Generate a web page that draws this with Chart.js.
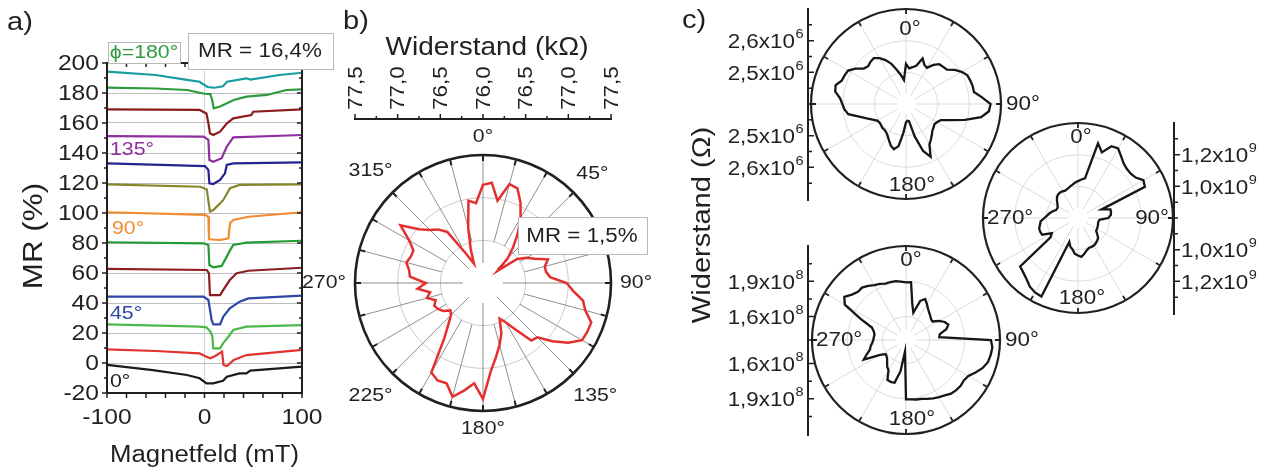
<!DOCTYPE html>
<html>
<head>
<meta charset="utf-8">
<script src="https://cdn.jsdelivr.net/npm/chart.js@4.4.1/dist/chart.umd.min.js"></script>
<style>
  html, body { margin: 0; padding: 0; background: #fff; }
  #wrap { position: relative; width: 1266px; height: 472px; overflow: hidden; background: #fff; }
  #wrap canvas { position: absolute; left: 0; top: 0; }
</style>
</head>
<body>
<div id="wrap">
  <canvas id="cA" width="1266" height="472"></canvas>
  <canvas id="cB" width="1266" height="472"></canvas>
  <canvas id="cC1" width="1266" height="472"></canvas>
  <canvas id="cC2" width="1266" height="472"></canvas>
  <canvas id="cC3" width="1266" height="472"></canvas>
</div>
<script>
// ---------- panel a: MR (%) vs. Magnetfeld (mT), one offset curve per angle ----------
const mr0   = [[-100,-1.3],[-53,-4.7],[-18,-8],[-5,-10.2],[2,-13.6],[9,-13.6],[19,-11.8],[23,-9.1],[36,-6.9],[43,-6.9],[47,-5.1],[100,-2.4]];
const mr15  = [[-100,9.1],[-50,8],[-5,6.4],[2,4.2],[6,3.1],[11,4.7],[18,7.6],[19.5,-1.3],[23,-2],[30,2],[43,5.3],[100,8.7]];
const mr30  = [[-100,25.8],[-5,24.2],[2,23.8],[6,20.9],[8,18],[9,9.8],[16,9.8],[19,13.1],[24.5,17.5],[29.5,22],[43,24.2],[100,25.3]];
const mr45  = [[-100,44.2],[-1,44.2],[4,42],[7.3,28.7],[9,25.8],[16,25.8],[19.3,30.9],[26,36.4],[36,40.9],[45,43.1],[100,44.9]];
const mr60  = [[-100,62.7],[2.3,62],[4.6,59.8],[5.6,45.3],[16,45.3],[19.3,48.7],[26,55.3],[33,59.8],[45,61.5],[100,63.5]];
const mr75  = [[-100,80.5],[-1,79.8],[4,78.7],[5,65.3],[9,63.8],[17.6,64.7],[22.8,70.9],[26,74.9],[29.5,78.7],[43,80.2],[100,81.5]];
const mr90  = [[-100,100.5],[0.5,98.7],[4,97.5],[4.6,82.5],[16,82],[24.5,83.1],[26.2,93.1],[29.5,95.3],[45,97.5],[100,100.5]];
const mr105 = [[-100,119.1],[-4.6,117.5],[2.3,115.8],[5.6,100.9],[9,102],[16,106.4],[19.3,108.7],[26.2,116.5],[36,118.7],[100,119.1]];
const mr120 = [[-100,133.1],[0.5,131.3],[4,128.7],[5,119.8],[9,119.3],[16,122],[21,126.4],[22.8,132],[29.5,133.1],[100,133.8]];
const mr135 = [[-100,151.3],[-1,150.9],[4,148.7],[5,135.3],[9,134.2],[17.6,136.5],[22.8,144.2],[29.5,150.4],[100,152]];
const mr150 = [[-100,169.1],[-5,168.7],[2,166.4],[4,159.8],[5.6,153.1],[9,152],[16,154.2],[23,159.8],[29.5,163.1],[48,165.3],[50,167.5],[100,169.1]];
const mr165 = [[-100,183.6],[-50,183],[-18,182],[0,179.5],[6,179.3],[8,175],[9.5,169.8],[16,171],[30,175.3],[43,177.6],[64,178.7],[84,182],[100,182.4]];
const mr180 = [[-100,194.2],[-50,192],[-18,188.7],[-5,187.5],[3,184],[10,183.5],[19,184.5],[23,187.5],[43,189.8],[47,189],[77,192],[100,193.5]];
const curveColors = ['#1b1b1b','#e1322f','#4cb848','#2c47a8','#8b1f22','#239b35','#f28a2e','#86862a','#23238f','#8f2f9f','#8b1c1c','#2e9a3e','#1a9ba0'];
const curveData = [mr0, mr15, mr30, mr45, mr60, mr75, mr90, mr105, mr120, mr135, mr150, mr165, mr180];
const fieldTicks = [-100, 0, 100];

// ---------- angle categories shared by the polar plots (degrees) ----------
const phiDeg = Array.from({ length: 72 }, (_, i) => i * 5);

// ---------- panel b: Widerstand (kOhm) vs. angle ----------
const rB = [
  77.15, 77.18, 76.98, 77.20, 77.18, 77.04, 76.88, 76.71, 76.55,
  76.41, 76.22, 76.49, 76.59, 76.67, 76.81, 76.75, 76.75, 76.79,
  76.98, 77.06, 77.19, 77.24, 77.35, 77.35, 77.34, 77.22, 77.06,
  76.90, 76.88, 76.67, 76.53, 76.46, 76.63, 76.75, 76.88, 77.04,
  77.36, 77.18, 77.28, 77.38, 77.25, 77.26, 77.21, 76.79, 76.63,
  76.53, 76.50, 76.57, 76.61, 76.63, 76.59, 76.68, 76.63, 76.77,
  76.67, 76.86, 76.88, 76.93, 76.90, 76.90, 77.00, 77.18, 76.98,
  76.88, 76.82, 76.73, 76.40, 76.25, 76.42, 76.67, 76.98, 76.94
];
const axisB = ['77,5', '77,0', '76,5', '76,0', '76,5', '77,0', '77,5'];

// ---------- panel c: three samples, Widerstand (Ohm) vs. angle ----------
const rC1 = [ // x10^6
  2.527, 2.513, 2.518, 2.525, 2.553, 2.537, 2.532, 2.551, 2.564,
  2.566, 2.569, 2.588, 2.603, 2.614, 2.616, 2.618, 2.618, 2.641,
  2.667, 2.663, 2.641, 2.593, 2.548, 2.521, 2.514, 2.510, 2.514,
  2.518, 2.527, 2.537, 2.548, 2.584, 2.558, 2.506, 2.455, 2.453,
  2.458, 2.490, 2.535, 2.548, 2.540, 2.527, 2.516, 2.509, 2.506,
  2.506, 2.503, 2.502, 2.505, 2.516, 2.532, 2.553, 2.585, 2.595,
  2.601, 2.609, 2.627, 2.630, 2.616, 2.614, 2.611, 2.595, 2.574,
  2.569, 2.574, 2.577, 2.567, 2.553, 2.535, 2.511, 2.493, 2.476
];
const rC2 = [ // x10^9
  1.033, 1.044, 1.054, 1.288, 1.241, 1.300, 1.307, 1.275, 1.249,
  1.237, 1.235, 1.245, 1.277, 1.266, 0.959, 1.012, 1.012, 1.008,
  0.991, 0.936, 0.931, 0.931, 0.934, 0.936, 0.938, 0.940, 0.959,
  0.980, 0.987, 0.995, 1.001, 1.001, 1.001, 1.012, 1.029, 1.046,
  1.037, 1.027, 1.001, 0.987, 0.961, 1.347, 1.343, 1.330, 1.305,
  1.288, 1.277, 1.012, 0.991, 1.050, 1.054, 1.054, 1.044, 1.037,
  1.012, 0.995, 0.980, 0.965, 0.948, 0.944, 0.948, 0.959, 0.974,
  0.987, 0.995, 0.997, 0.995, 0.991, 0.995, 1.004, 1.012, 1.023
];
const rC3 = [ // x10^8
  1.891, 1.894, 1.709, 1.641, 1.755, 1.786, 1.755, 1.726, 1.706,
  1.692, 1.678, 1.675, 1.726, 1.763, 1.783, 1.755, 1.692, 1.684,
  2.123, 2.138, 2.132, 2.123, 2.095, 2.053, 2.013, 2.001, 2.007,
  2.004, 1.996, 1.976, 1.962, 1.948, 1.933, 1.919, 1.914, 1.908,
  1.905, 1.499, 1.670, 1.777, 1.780, 1.774, 1.698, 1.678, 1.650,
  1.627, 1.616, 1.610, 1.655, 1.797, 1.755, 1.718, 1.706, 1.689,
  1.678, 1.675, 1.672, 1.684, 1.709, 1.826, 2.001, 2.041, 2.001,
  1.979, 1.982, 1.962, 1.939, 1.928, 1.911, 1.911, 1.908, 1.899
];
const ringsC1 = [2.4, 2.5, 2.6, 2.7];
const ringsC2 = [0.8, 1.0, 1.2, 1.4];
const ringsC3 = [1.4, 1.6, 1.9, 2.2];

// ---------- text helpers ----------
const INK = '#231f20';
const FONT = '"Liberation Sans", Arial, Helvetica, sans-serif';
const SX = 1.12;
function txt(ctx, s, x, y, size, o = {}) {
  ctx.save();
  ctx.translate(x, y);
  if (o.rot) ctx.rotate(o.rot);
  ctx.scale(o.sx || SX, 1);
  ctx.font = size + 'px ' + FONT;
  ctx.fillStyle = o.color || INK;
  ctx.textAlign = o.align || 'center';
  ctx.textBaseline = o.base || 'middle';
  ctx.fillText(s, 0, 0);
  ctx.restore();
}
function txtW(ctx, s, size) {
  ctx.save();
  ctx.font = size + 'px ' + FONT;
  const w = ctx.measureText(s).width * SX;
  ctx.restore();
  return w;
}
function sci(ctx, mant, exp, x, y, align) {
  const w1 = txtW(ctx, mant, 20), w2 = txtW(ctx, exp, 13);
  const x0 = align === 'right' ? x - w1 - w2 : x;
  txt(ctx, mant, x0, y, 20, { align: 'left' });
  txt(ctx, exp, x0 + w1 + 0.5, y - 8, 13, { align: 'left' });
}
function box(ctx, x0, y0, x1, y1) {
  ctx.save();
  ctx.fillStyle = '#fff';
  ctx.strokeStyle = '#b8b8b8';
  ctx.lineWidth = 1;
  ctx.fillRect(x0, y0, x1 - x0, y1 - y0);
  ctx.strokeRect(x0 + 0.5, y0 + 0.5, x1 - x0, y1 - y0);
  ctx.restore();
}

// ---------- panel a decorations: frame, ticks, labels ----------
const panelA = {
  id: 'panelA',
  afterDraw(chart) {
    const { ctx, chartArea: a, scales: { x, y } } = chart;
    ctx.save();
    ctx.strokeStyle = INK;
    ctx.lineWidth = 2;
    ctx.strokeRect(a.left, a.top, a.right - a.left, a.bottom - a.top);
    ctx.lineWidth = 1.5;
    ctx.beginPath();
    y.ticks.forEach((t, i) => {
      const py = y.getPixelForValue(t.value);
      ctx.moveTo(a.left - 5, py); ctx.lineTo(a.left, py);
      ctx.moveTo(a.right, py); ctx.lineTo(a.right - 5, py);
      if (i < y.ticks.length - 1) {
        const pm = y.getPixelForValue(t.value + 10);
        ctx.moveTo(a.left - 3, pm); ctx.lineTo(a.left, pm);
        ctx.moveTo(a.right, pm); ctx.lineTo(a.right - 3, pm);
      }
    });
    x.ticks.forEach(t => {
      const px = x.getPixelForValue(t.value);
      ctx.moveTo(px, a.bottom); ctx.lineTo(px, a.bottom + 5);
      ctx.moveTo(px, a.top); ctx.lineTo(px, a.top + 4);
    });
    ctx.stroke();
    ctx.restore();

    y.ticks.forEach(t => {
      txt(ctx, String(t.value), a.left - 8, y.getPixelForValue(t.value) + 1, 22, { align: 'right' });
    });
    fieldTicks.forEach(v => txt(ctx, String(v), x.getPixelForValue(v), a.bottom + 25, 22));
    txt(ctx, 'Magnetfeld (mT)', (a.left + a.right) / 2, 456, 23);
    txt(ctx, 'MR (%)', 34, 236, 28, { rot: -Math.PI / 2 });
    txt(ctx, 'a)', 7, 23, 26, { align: 'left' });

    box(ctx, 108, 42, 180, 63);
    txt(ctx, 'ϕ=180°', 144, 53, 19, { color: '#2e9a3e' });
    box(ctx, 188, 33, 333, 69);
    txt(ctx, 'MR = 16,4%', 260, 51, 20);
    txt(ctx, '135°', 110, 150, 19, { align: 'left', color: '#8f2f9f' });
    txt(ctx, '90°', 112, 229, 19, { align: 'left', color: '#f28a2e' });
    txt(ctx, '45°', 110, 314, 19, { align: 'left', color: '#2c47a8' });
    txt(ctx, '0°', 110, 382, 19, { align: 'left' });
  }
};

new Chart(document.getElementById('cA'), {
  type: 'line',
  data: {
    datasets: curveData.map((pts, i) => ({
      data: pts.map(([x, y]) => ({ x, y })),
      borderColor: curveColors[i],
      borderWidth: 2.2,
      pointRadius: 0,
      tension: 0,
      fill: false
    }))
  },
  options: {
    responsive: false, animation: false, events: [],
    layout: { padding: { left: 107, right: 964, top: 63, bottom: 79 } },
    plugins: { legend: { display: false }, tooltip: { enabled: false } },
    scales: {
      x: {
        type: 'linear', min: -100, max: 100,
        ticks: { display: false, stepSize: 20 },
        grid: { drawTicks: false, color: c => (c.tick && c.tick.value === 0) ? '#d4d4d4' : 'rgba(0,0,0,0)' },
        border: { display: false },
        afterFit: s => { s.height = 0; }
      },
      y: {
        type: 'linear', min: -20, max: 200,
        ticks: { display: false, stepSize: 20 },
        grid: { drawTicks: false, color: '#bdbdbd', lineWidth: 1 },
        border: { display: false },
        afterFit: s => { s.width = 0; }
      }
    }
  },
  plugins: [panelA]
});

// ---------- panel b ----------
const panelB = {
  id: 'panelB',
  beforeDatasetsDraw(chart) {
    const s = chart.scales.r, ctx = chart.ctx, R = s.drawingArea;
    const inner = s.getDistanceFromCenterForValue(76.5);
    ctx.save();
    ctx.strokeStyle = '#8e8e8e';
    ctx.lineWidth = 1;
    ctx.beginPath();
    phiDeg.forEach((deg, i) => {
      if (deg % 15) return;
      const p0 = s.getPointPosition(i, deg % 45 === 0 ? 20 : inner);
      const p1 = s.getPointPosition(i, R);
      ctx.moveTo(p0.x, p0.y); ctx.lineTo(p1.x, p1.y);
    });
    ctx.stroke();
    ctx.strokeStyle = INK;
    ctx.lineWidth = 2;
    ctx.beginPath();
    phiDeg.forEach((deg, i) => {
      if (deg % 15) return;
      const p0 = s.getPointPosition(i, R - 6), p1 = s.getPointPosition(i, R);
      ctx.moveTo(p0.x, p0.y); ctx.lineTo(p1.x, p1.y);
    });
    ctx.stroke();
    ctx.restore();
  },
  afterDraw(chart) {
    const s = chart.scales.r, ctx = chart.ctx, R = s.drawingArea;
    // angle labels
    phiDeg.forEach((deg, i) => {
      if (deg % 45) return;
      const str = deg + '°';
      const w = txtW(ctx, str, 19);
      const th = deg * Math.PI / 180;
      const d = R + 9 + Math.abs(Math.sin(th)) * w / 2 + Math.abs(Math.cos(th)) * 9;
      const p = s.getPointPosition(i, d);
      txt(ctx, str, p.x, p.y, 19);
    });
    // linear resistance axis above the polar plot
    const yAx = 119;
    ctx.save();
    ctx.strokeStyle = INK;
    ctx.lineWidth = 2;
    ctx.beginPath();
    ctx.moveTo(s.xCenter - R - 1, yAx); ctx.lineTo(s.xCenter + R + 1, yAx);
    ctx.stroke();
    ctx.lineWidth = 1.5;
    ctx.beginPath();
    axisB.forEach((lab, k) => {
      const v = parseFloat(lab.replace(',', '.'));
      const sign = k < 3 ? -1 : 1;
      const px = s.xCenter + sign * s.getDistanceFromCenterForValue(v);
      ctx.moveTo(px, yAx); ctx.lineTo(px, yAx - 5);
      if (k < axisB.length - 1) {
        const vNext = parseFloat(axisB[k + 1].replace(',', '.'));
        const vm = (v + vNext) / 2;
        const sm = k < 3 ? -1 : 1;
        const pm = s.xCenter + sm * s.getDistanceFromCenterForValue(vm);
        ctx.moveTo(pm, yAx); ctx.lineTo(pm, yAx - 3);
      }
    });
    ctx.stroke();
    ctx.restore();
    axisB.forEach((lab, k) => {
      const v = parseFloat(lab.replace(',', '.'));
      const sign = k < 3 ? -1 : 1;
      const px = s.xCenter + sign * s.getDistanceFromCenterForValue(v);
      txt(ctx, lab, px + 1, yAx - 9, 20, { rot: -Math.PI / 2, align: 'left' });
    });
    txt(ctx, 'Widerstand (kΩ)', 487, 48, 25);
    txt(ctx, 'b)', 343, 22, 26, { align: 'left' });
    box(ctx, 518, 217, 647, 254);
    txt(ctx, 'MR = 1,5%', 582, 236, 20);
  }
};

new Chart(document.getElementById('cB'), {
  type: 'radar',
  data: {
    labels: phiDeg,
    datasets: [{ data: rB, borderColor: '#e3302f', borderWidth: 2.5, pointRadius: 0, fill: false, tension: 0 }]
  },
  options: {
    responsive: false, animation: false, events: [],
    layout: { padding: { left: 355, right: 655, top: 155, bottom: 61 } },
    plugins: { legend: { display: false }, tooltip: { enabled: false } },
    scales: {
      r: {
        min: 76.0, max: 77.5,
        ticks: { display: false, stepSize: 0.5 },
        grid: {
          circular: true,
          color: c => (c.tick && c.tick.value >= 77.49) ? INK : '#c9c9c9',
          lineWidth: c => (c.tick && c.tick.value >= 77.49) ? 2.6 : 1
        },
        angleLines: { display: false },
        pointLabels: { display: false }
      }
    }
  },
  plugins: [panelB]
});

// ---------- panel c ----------
function polarDecor(cfg) {
  return {
    id: cfg.id,
    beforeDatasetsDraw(chart) {
      const s = chart.scales.r, ctx = chart.ctx, R = s.drawingArea;
      ctx.save();
      ctx.strokeStyle = '#dadada';
      ctx.lineWidth = 1;
      ctx.beginPath();
      phiDeg.forEach((deg, i) => {
        if (deg % 30) return;
        const p0 = s.getPointPosition(i, 10), p1 = s.getPointPosition(i, R);
        ctx.moveTo(p0.x, p0.y); ctx.lineTo(p1.x, p1.y);
      });
      ctx.stroke();
      ctx.strokeStyle = INK;
      ctx.lineWidth = 1.8;
      ctx.beginPath();
      phiDeg.forEach((deg, i) => {
        if (deg % 30) return;
        const p0 = s.getPointPosition(i, R - 5), p1 = s.getPointPosition(i, R);
        ctx.moveTo(p0.x, p0.y); ctx.lineTo(p1.x, p1.y);
      });
      ctx.stroke();
      ctx.restore();
    },
    afterDraw(chart) {
      const s = chart.scales.r, ctx = chart.ctx, R = s.drawingArea;
      cfg.angles.forEach(a => {
        const i = phiDeg.indexOf(a.deg);
        const str = a.deg + '°';
        const w = txtW(ctx, str, 20);
        let d = a.dist;
        if (a.edge === 'in') d = R - 4 - w / 2;
        if (a.edge === 'out') d = R + 5 + w / 2;
        const p = s.getPointPosition(i, d);
        txt(ctx, str, p.x + (a.dx || 0), p.y, 20);
      });
      // vertical resistance axis
      const ax = cfg.axisX;
      const topY = s.yCenter - R - 1, botY = s.yCenter + R + 2;
      ctx.save();
      ctx.strokeStyle = INK;
      ctx.lineWidth = 2;
      ctx.beginPath();
      ctx.moveTo(ax, topY); ctx.lineTo(ax, botY);
      ctx.stroke();
      ctx.lineWidth = 1.5;
      ctx.beginPath();
      cfg.minor.forEach(v => {
        const d = s.getDistanceFromCenterForValue(v);
        [-1, 1].forEach(sg => { ctx.moveTo(ax, s.yCenter + sg * d); ctx.lineTo(ax + 4, s.yCenter + sg * d); });
      });
      cfg.major.forEach(m => {
        const d = s.getDistanceFromCenterForValue(m.v);
        [-1, 1].forEach(sg => { ctx.moveTo(ax, s.yCenter + sg * d); ctx.lineTo(ax + 6, s.yCenter + sg * d); });
      });
      ctx.stroke();
      ctx.restore();
      cfg.major.forEach(m => {
        const d = s.getDistanceFromCenterForValue(m.v);
        [-1, 1].forEach(sg => {
          const yy = s.yCenter + sg * d + 2;
          if (cfg.labelSide === 'left') sci(ctx, m.mant, m.exp, ax - 5, yy, 'right');
          else sci(ctx, m.mant, m.exp, ax + 7, yy, 'left');
        });
      });
    }
  };
}

function polarChart(id, values, rings, pad, decor) {
  const lo = rings[0], hi = rings[rings.length - 1];
  return new Chart(document.getElementById(id), {
    type: 'radar',
    data: {
      labels: phiDeg,
      datasets: [{ data: values, borderColor: '#161616', borderWidth: 2.3, pointRadius: 0, fill: false, tension: 0 }]
    },
    options: {
      responsive: false, animation: false, events: [],
      layout: { padding: pad },
      plugins: { legend: { display: false }, tooltip: { enabled: false } },
      scales: {
        r: {
          min: lo, max: hi,
          ticks: { display: false },
          afterBuildTicks: sc => { sc.ticks = rings.map(v => ({ value: v })); },
          grid: {
            circular: true,
            color: c => (c.tick && Math.abs(c.tick.value - hi) < 1e-6) ? INK : '#dcdcdc',
            lineWidth: c => (c.tick && Math.abs(c.tick.value - hi) < 1e-6) ? 2.2 : 1
          },
          angleLines: { display: false },
          pointLabels: { display: false }
        }
      }
    },
    plugins: [decor]
  });
}

polarChart('cC1', rC1, ringsC1, { left: 811, right: 265, top: 9, bottom: 273 }, polarDecor({
  id: 'c1',
  angles: [{ deg: 0, dist: 75, dx: 4 }, { deg: 90, edge: 'out' }, { deg: 180, dist: 81, dx: 6 }],
  axisX: 808, labelSide: 'left',
  major: [{ v: 2.5, mant: '2,5x10', exp: '6' }, { v: 2.6, mant: '2,6x10', exp: '6' }],
  minor: [2.4, 2.45, 2.55, 2.65]
}));

polarChart('cC2', rC2, ringsC2, { left: 983, right: 93, top: 123, bottom: 159 }, polarDecor({
  id: 'c2',
  angles: [{ deg: 0, dist: 81, dx: 3 }, { deg: 90, edge: 'in' }, { deg: 180, dist: 80, dx: 4 }, { deg: 270, edge: 'in' }],
  axisX: 1174, labelSide: 'right',
  major: [{ v: 1.0, mant: '1,0x10', exp: '9' }, { v: 1.2, mant: '1,2x10', exp: '9' }],
  minor: [0.8, 0.9, 1.1, 1.3]
}));

polarChart('cC3', rC3, ringsC3, { left: 812, right: 266, top: 246, bottom: 38 }, polarDecor({
  id: 'c3',
  angles: [{ deg: 0, dist: 80, dx: 5 }, { deg: 90, edge: 'out' }, { deg: 180, dist: 79, dx: 6 }, { deg: 270, edge: 'in' }],
  axisX: 808, labelSide: 'left',
  major: [{ v: 1.6, mant: '1,6x10', exp: '8' }, { v: 1.9, mant: '1,9x10', exp: '8' }],
  minor: [1.4, 1.75, 2.05]
}));

// shared panel c texts
(function () {
  const ctx = document.getElementById('cC1').getContext('2d');
  txt(ctx, 'c)', 682, 21, 26, { align: 'left' });
  txt(ctx, 'Widerstand (Ω)', 703, 225, 26, { rot: -Math.PI / 2 });
})();
</script>
</body>
</html>
